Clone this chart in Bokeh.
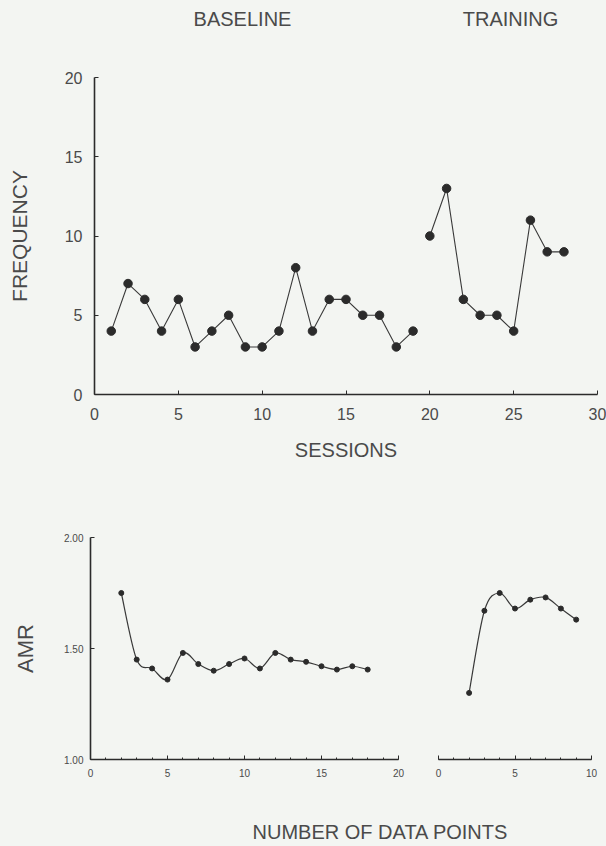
from bokeh.plotting import figure
from bokeh.layouts import column, row
from bokeh.models import Range1d, Label, FixedTicker, ColumnDataSource, NumeralTickFormatter
from bokeh.embed import file_html
from bokeh.resources import INLINE

# ---------------- data ----------------
phase_names = ["BASELINE", "TRAINING"]

baseline_sessions = list(range(1, 20))
baseline_freq = [4, 7, 6, 4, 6, 3, 4, 5, 3, 3, 4, 8, 4, 6, 6, 5, 5, 3, 4]
training_sessions = list(range(20, 29))
training_freq = [10, 13, 6, 5, 5, 4, 11, 9, 9]

amr_base_n = list(range(2, 19))
amr_base = [1.75, 1.45, 1.41, 1.36, 1.48, 1.43, 1.40, 1.43, 1.455, 1.41, 1.48,
            1.45, 1.44, 1.42, 1.405, 1.42, 1.405]
amr_train_n = list(range(2, 10))
amr_train = [1.30, 1.67, 1.75, 1.68, 1.72, 1.73, 1.68, 1.63]

freq_x_ticks = [0, 5, 10, 15, 20, 25, 30]
freq_y_ticks = [0, 5, 10, 15, 20]
amr_y_ticks = [1.0, 1.5, 2.0]
amr_base_x_ticks = [0, 5, 10, 15, 20]
amr_train_x_ticks = [0, 5, 10]

FONT = "Liberation Sans"
BG = "#f3f5f2"
INK = "#2b2b2b"
TXT = "#4a4a4a"

# frame of the top panel, in page pixels (strips share it so their frames line up)
FRAME_L, FRAME_R, PAGE_W = 94, 597, 606


def style(p):
    p.grid.visible = False
    p.outline_line_color = None
    p.background_fill_color = BG
    p.border_fill_color = BG
    for ax in p.axis:
        ax.axis_line_color = INK
        ax.axis_line_width = 1.6
        ax.major_tick_line_color = INK
        ax.minor_tick_line_color = INK
        ax.major_tick_in = 4
        ax.major_tick_out = 0
        ax.minor_tick_in = 2
        ax.minor_tick_out = 0
        ax.major_label_text_font = FONT
        ax.major_label_text_color = TXT
        ax.axis_label_text_font = FONT
        ax.axis_label_text_color = TXT
        ax.axis_label_text_font_style = "normal"


def strip(height):
    s = figure(width=PAGE_W, height=height, x_range=Range1d(FRAME_L, FRAME_R),
               y_range=Range1d(0, height), output_backend="svg", toolbar_location=None,
               x_axis_location=None, y_axis_location=None,
               min_border_left=FRAME_L, min_border_right=PAGE_W - FRAME_R,
               min_border_top=0, min_border_bottom=0)
    s.grid.visible = False
    s.outline_line_color = None
    s.background_fill_color = BG
    s.border_fill_color = BG
    return s


def catmull_bezier(xs, ys):
    n = len(xs)
    d = dict(x0=[], y0=[], x1=[], y1=[], cx0=[], cy0=[], cx1=[], cy1=[])
    for i in range(n - 1):
        xm, ym = (xs[i - 1], ys[i - 1]) if i > 0 else (xs[i], ys[i])
        xp, yp = (xs[i + 2], ys[i + 2]) if i + 2 < n else (xs[i + 1], ys[i + 1])
        d["x0"].append(xs[i]); d["y0"].append(ys[i])
        d["x1"].append(xs[i + 1]); d["y1"].append(ys[i + 1])
        d["cx0"].append(xs[i] + (xs[i + 1] - xm) / 6.0)
        d["cy0"].append(ys[i] + (ys[i + 1] - ym) / 6.0)
        d["cx1"].append(xs[i + 1] - (xp - xs[i]) / 6.0)
        d["cy1"].append(ys[i + 1] - (yp - ys[i]) / 6.0)
    return ColumnDataSource(d)


# ---------------- title strip ----------------
p0 = strip(40)
for name, cx in zip(phase_names, [242, 510]):
    p0.add_layout(Label(x=cx, y=22, text=name, text_align="center",
                        text_baseline="middle", text_font=FONT, text_font_size="20px",
                        text_color=TXT))

# ---------------- top: frequency ----------------
p1 = figure(width=PAGE_W, height=438, x_range=Range1d(0, 30), y_range=Range1d(0, 20),
            output_backend="svg", toolbar_location=None,
            min_border_left=FRAME_L, min_border_right=PAGE_W - FRAME_R,
            min_border_top=37, min_border_bottom=84)
style(p1)
p1.xaxis.ticker = FixedTicker(ticks=freq_x_ticks)
p1.yaxis.ticker = FixedTicker(ticks=freq_y_ticks)
p1.xaxis.axis_label = "SESSIONS"
p1.yaxis.axis_label = "FREQUENCY"
p1.xaxis.major_label_text_font_size = "16px"
p1.yaxis.major_label_text_font_size = "16px"
p1.xaxis.major_label_standoff = 13
p1.yaxis.major_label_standoff = 12
p1.xaxis.axis_label_text_font_size = "20px"
p1.yaxis.axis_label_text_font_size = "21px"
p1.xaxis.axis_label_standoff = 16
p1.yaxis.axis_label_standoff = 31

for xs, ys in [(baseline_sessions, baseline_freq), (training_sessions, training_freq)]:
    p1.line(xs, ys, line_color="#3a3a3a", line_width=1.1)
    p1.scatter(xs, ys, size=8.5, fill_color=INK, line_color=INK)

# ---------------- bottom left: AMR baseline ----------------
p2 = figure(width=420, height=332, x_range=Range1d(0, 20), y_range=Range1d(1, 2),
            output_backend="svg", toolbar_location=None,
            min_border_left=90, min_border_right=22, min_border_top=59, min_border_bottom=51)
style(p2)
p2.xaxis.ticker = FixedTicker(ticks=amr_base_x_ticks, minor_ticks=list(range(0, 21)))
p2.yaxis.ticker = FixedTicker(ticks=amr_y_ticks)
p2.yaxis.formatter = NumeralTickFormatter(format="0.00")
p2.yaxis.axis_label = "AMR"
p2.yaxis.axis_label_text_font_size = "22px"
p2.yaxis.axis_label_standoff = 23
p2.xaxis.major_label_standoff = 9
p2.yaxis.major_label_standoff = 7
for ax in p2.axis:
    ax.major_label_text_font_size = "10px"
p2.bezier(x0="x0", y0="y0", x1="x1", y1="y1", cx0="cx0", cy0="cy0", cx1="cx1", cy1="cy1",
          source=catmull_bezier(amr_base_n, amr_base), line_color="#3a3a3a", line_width=1.2)
p2.scatter(amr_base_n, amr_base, size=5, fill_color=INK, line_color=INK)

# ---------------- bottom right: AMR training ----------------
p3 = figure(width=186, height=332, x_range=Range1d(0, 10), y_range=Range1d(1, 2),
            output_backend="svg", toolbar_location=None, y_axis_location=None,
            min_border_left=18, min_border_right=15, min_border_top=59, min_border_bottom=51)
style(p3)
p3.xaxis.ticker = FixedTicker(ticks=amr_train_x_ticks, minor_ticks=list(range(0, 11)))
p3.xaxis.major_label_text_font_size = "10px"
p3.xaxis.major_label_standoff = 9
p3.bezier(x0="x0", y0="y0", x1="x1", y1="y1", cx0="cx0", cy0="cy0", cx1="cx1", cy1="cy1",
          source=catmull_bezier(amr_train_n, amr_train), line_color="#3a3a3a", line_width=1.2)
p3.scatter(amr_train_n, amr_train, size=5, fill_color=INK, line_color=INK)

# ---------------- bottom strip: shared x label ----------------
p4 = strip(36)
p4.add_layout(Label(x=380, y=15, text="NUMBER OF DATA POINTS", text_align="center",
                    text_baseline="middle", text_font=FONT, text_font_size="20px",
                    text_color=TXT))

bottom = row(p2, p3, styles={"background-color": BG})
layout = column(p0, p1, bottom, p4, styles={"background-color": BG})
open("out.html", "w").write(file_html(layout, INLINE))
